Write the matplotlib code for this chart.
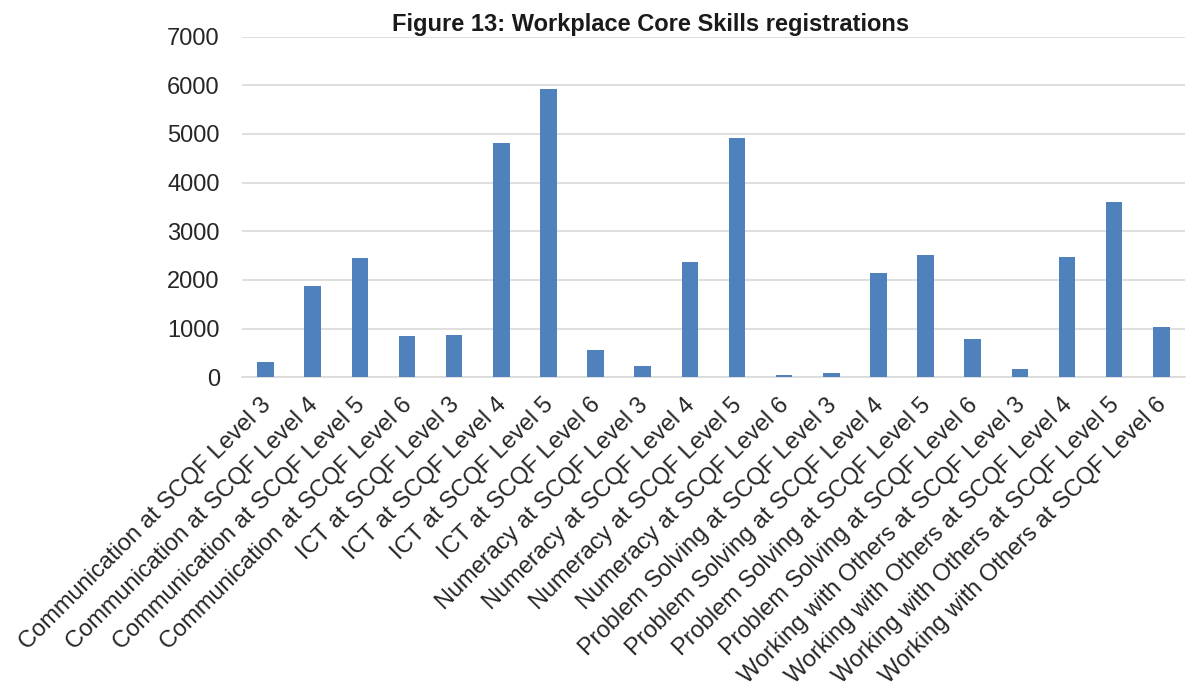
import matplotlib
matplotlib.use('Agg')
import matplotlib.pyplot as plt
import matplotlib.transforms as mtransforms
import numpy as np

plt.rcParams['font.family'] = ['Liberation Sans', 'DejaVu Sans']

skills = ['Communication'] * 4 + ['ICT'] * 4 + ['Numeracy'] * 4 + \
    ['Problem Solving'] * 4 + ['Working with Others'] * 4
levels = [3, 4, 5, 6] * 5
labels = [f'{s} at SCQF Level {l}' for s, l in zip(skills, levels)]
registrations = [310, 1875, 2445, 840,
                 870, 4805, 5925, 570,
                 235, 2375, 4915, 50,
                 90, 2140, 2520, 795,
                 160, 2480, 3600, 1025]

fig = plt.figure(figsize=(11.92, 6.91), dpi=100)
ax = fig.add_axes([0.203, 0.454, 0.791, 0.493])

x = np.arange(len(labels))
ax.bar(x, registrations, width=0.35, color='#4f81bd', zorder=3)

ax.set_xlim(-0.5, len(labels) - 0.5)
ax.set_ylim(0, 7000)
ax.set_yticks(np.arange(0, 7001, 1000))
ax.yaxis.grid(True, color='#d9d9d9', lw=1.2, zorder=0)
for s in ['top', 'right', 'left']:
    ax.spines[s].set_visible(False)
ax.spines['bottom'].set_color('#d9d9d9')
ax.spines['bottom'].set_linewidth(1.2)
ax.tick_params(axis='both', length=0, labelsize=17, colors='#262626')
ax.tick_params(axis='y', pad=16)
ax.tick_params(axis='x', pad=12)
ax.set_xticks(x)
ax.set_xticklabels(labels, rotation=45, ha='right', rotation_mode='anchor')

# nudge the slanted labels a little to the left
offset = mtransforms.ScaledTranslation(-6 / 100, 0, fig.dpi_scale_trans)
for lab in ax.get_xticklabels():
    lab.set_transform(lab.get_transform() + offset)

fig.text(0.546, 0.964, 'Figure 13: Workplace Core Skills registrations',
         ha='center', va='center', fontsize=17, fontweight='bold', color='#1a1a1a')

fig.savefig('out.png', dpi=100)
